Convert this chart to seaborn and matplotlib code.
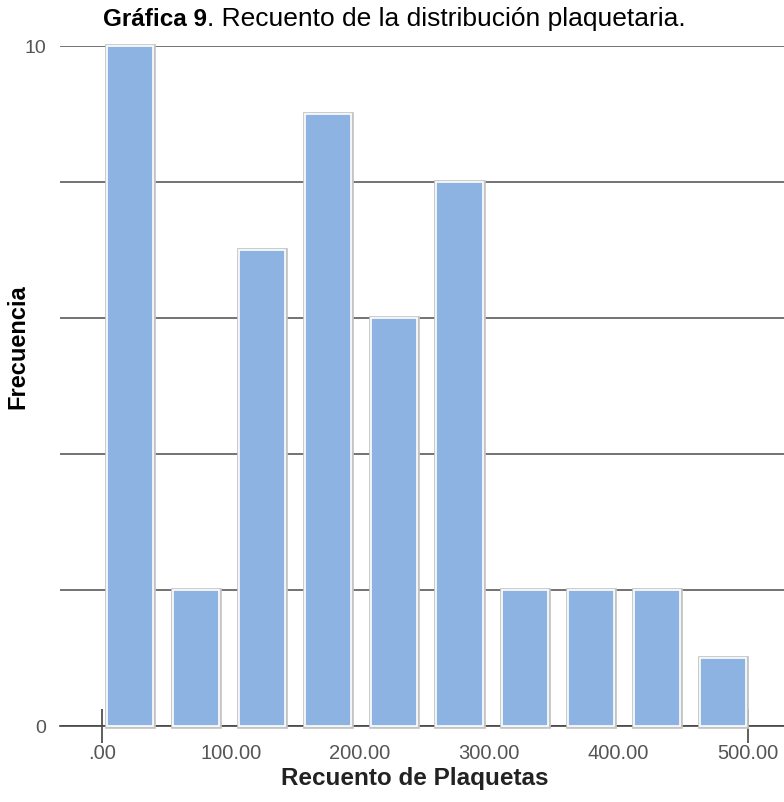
import matplotlib
matplotlib.use("Agg")
import matplotlib.pyplot as plt
import seaborn as sns

# Histogram of platelet counts (bin midpoints)
bin_centers = [22, 73, 124, 175, 226, 277, 328, 379, 430, 481]
counts = [10, 2, 7, 9, 6, 8, 2, 2, 2, 1]
bin_width = 51
x_ticks = [0, 100, 200, 300, 400, 500]
x_tick_labels = [".00", "100.00", "200.00", "300.00", "400.00", "500.00"]
y_ticks = [0, 2, 4, 6, 8, 10]
y_tick_labels = ["0", "", "", "", "", "10"]

sns.set_theme(style="white")
plt.rcParams["font.family"] = ["Liberation Sans", "DejaVu Sans"]

fig = plt.figure(figsize=(7.84, 8.03), dpi=100)
ax = fig.add_axes([60 / 784, 76 / 803, 724 / 784, 680 / 803])

edges = [c - bin_width / 2 for c in bin_centers] + [bin_centers[-1] + bin_width / 2]

# gray outer frame, then white inner frame around each bar
sns.histplot(x=bin_centers, weights=counts, bins=edges, shrink=0.7,
             color="#8db3e2", alpha=1, edgecolor="#c4c4c4", linewidth=3.4, ax=ax)
sns.histplot(x=bin_centers, weights=counts, bins=edges, shrink=0.7,
             color="#8db3e2", alpha=1, edgecolor="white", linewidth=1.2, ax=ax)
for p in ax.patches:
    p.set_zorder(3)
    p.set_clip_on(False)

ax.set_xlim(-32.3, 528.2)
ax.set_ylim(0, 10)

ax.set_yticks(y_ticks)
ax.set_yticklabels(y_tick_labels, color="#555555", fontsize=14)
ax.set_xticks(x_ticks)
ax.set_xticklabels(x_tick_labels, color="#555555", fontsize=14.5)
ax.tick_params(axis="both", length=0)
ax.tick_params(axis="y", pad=10)
ax.tick_params(axis="x", pad=12)
# only the end ticks get a visible mark crossing the axis
ax.xaxis.remove_overlapping_locs = False
ax.set_xticks([0, 500], minor=True)
ax.tick_params(axis="x", which="minor", bottom=True, direction="inout", length=24,
               width=1.1, color="#333333")

ax.grid(axis="y", color="#4d4d4d", linewidth=1.1)
ax.set_axisbelow(True)
for side in ["left", "right", "top"]:
    ax.spines[side].set_visible(False)
ax.spines["bottom"].set_color("#444444")
ax.spines["bottom"].set_linewidth(1.2)

ax.set_xlabel("Recuento de Plaquetas", fontsize=17.5, fontweight="bold",
              color="#222222")
ax.xaxis.set_label_coords((415 - 60) / 724, -40 / 680)
ax.set_ylabel("")
fig.text(18 / 784, 1 - 347 / 803, "Frecuencia", fontsize=17, fontweight="bold",
         color="black", rotation=90, ha="center", va="center")

# title: bold prefix + regular remainder
t1 = fig.text(103 / 784, 1 - 19 / 803, "Gráfica 9", fontsize=17.5, fontweight="bold",
              color="black", ha="left", va="center")
fig.canvas.draw()
bb = t1.get_window_extent()
fig.text(bb.x1 / 784, 1 - 19 / 803, ". Recuento de la distribución plaquetaria.",
         fontsize=19, color="black", ha="left", va="center")

fig.savefig("out.png", dpi=100)
